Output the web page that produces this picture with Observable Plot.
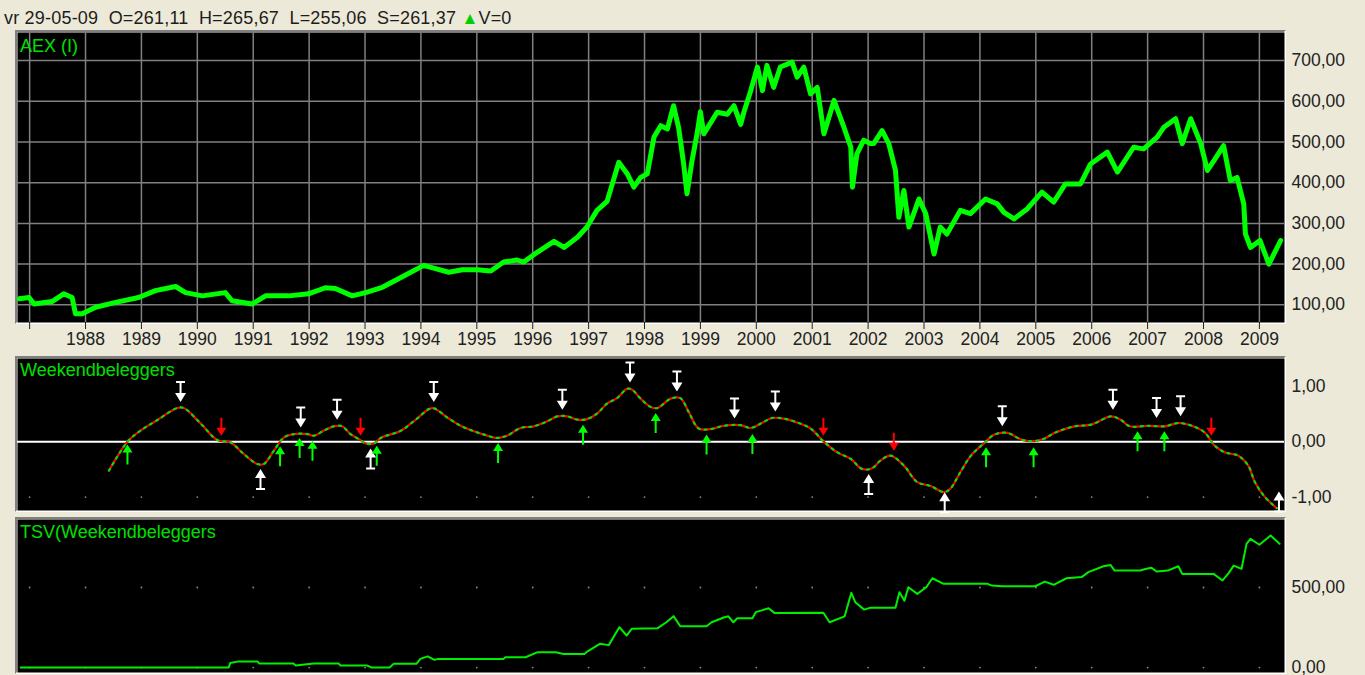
<!DOCTYPE html>
<html><head><meta charset="utf-8">
<script src="https://cdn.jsdelivr.net/npm/d3@7"></script>
<script src="https://cdn.jsdelivr.net/npm/@observablehq/plot@0.6"></script>
<style>
body{margin:0;background:#ECE9D8;width:1365px;height:675px;overflow:hidden;position:relative;font-family:"Liberation Sans",Arial,sans-serif;}
.frame{position:absolute;box-sizing:border-box;border-top:2px solid #7f7f7f;border-left:2px solid #7f7f7f;border-bottom:2px solid #fff;border-right:2px solid #fff;}
.panel{position:absolute;left:0;}
.panel svg{overflow:visible;display:block;}
.lbl{position:absolute;left:20px;color:#00e000;font-size:18px;line-height:1;white-space:pre;}
#hdr{position:absolute;left:4px;top:9px;font-size:18px;letter-spacing:0.2px;line-height:1;color:#1c1c1c;white-space:pre;}
#hdr .tri{color:#00d000;font-size:17px;}
</style></head><body>
<div id="hdr">vr 29-05-09  O=261,11  H=265,67  L=255,06  S=261,37 <span class="tri">▲</span>V=0</div>
<div class="frame" style="left:15px;top:30px;width:1271px;height:294px"></div>
<div class="frame" style="left:15px;top:356px;width:1271px;height:156px"></div>
<div class="frame" style="left:15px;top:517px;width:1271px;height:157px"></div>
<div id="p1" class="panel" style="top:32px"></div>
<div id="p2" class="panel" style="top:358px"></div>
<div id="p3" class="panel" style="top:519px"></div>
<div class="lbl" style="top:37px">AEX (I)</div>
<div class="lbl" style="top:361px">Weekendbeleggers</div>
<div class="lbl" style="top:523px">TSV(Weekendbeleggers</div>
<script>
// ---------- data (decimal year, value) ----------
const yearTicks = [1987,1988,1989,1990,1991,1992,1993,1994,1995,1996,1997,1998,1999,2000,2001,2002,2003,2004,2005,2006,2007,2008,2009];
const aexTicks = [100,200,300,400,500,600,700];
const wbTicks = [1,0,-1];
const tsvTicks = [0,500];

const aexSeries = [
[1986.81,115],[1986.99,118],[1987.08,102],[1987.40,108],[1987.61,127],[1987.76,118],[1987.82,78],[1987.94,78],
[1988.18,94],[1988.54,106],[1988.95,118],[1989.25,135],[1989.61,145],[1989.79,130],[1990.09,122],[1990.50,130],
[1990.62,110],[1990.98,102],[1991.22,122],[1991.64,122],[1991.99,127],[1992.29,142],[1992.47,140],[1992.77,122],
[1993.01,130],[1993.31,143],[1993.60,164],[1994.05,197],[1994.26,189],[1994.50,180],[1994.74,186],[1995.01,186],
[1995.25,183],[1995.48,205],[1995.72,210],[1995.84,205],[1996.08,229],[1996.38,256],[1996.56,241],[1996.80,266],
[1996.97,291],[1997.15,332],[1997.33,354],[1997.54,450],[1997.69,422],[1997.81,389],[1997.93,413],[1998.05,422],
[1998.17,512],[1998.29,540],[1998.41,532],[1998.52,589],[1998.61,535],[1998.70,446],[1998.76,373],[1998.85,454],
[1998.94,520],[1999.00,574],[1999.06,520],[1999.30,573],[1999.48,568],[1999.60,589],[1999.72,543],[1999.78,574],
[1999.90,626],[2000.02,684],[2000.11,626],[2000.19,688],[2000.31,634],[2000.43,684],[2000.64,696],[2000.73,659],
[2000.85,684],[2000.97,618],[2001.09,634],[2001.21,520],[2001.39,602],[2001.57,535],[2001.69,487],[2001.72,389],
[2001.80,471],[2001.92,504],[2002.04,496],[2002.10,496],[2002.25,528],[2002.37,496],[2002.49,430],[2002.55,315],
[2002.64,381],[2002.73,291],[2002.91,360],[2003.03,324],[2003.18,225],[2003.29,291],[2003.41,274],[2003.65,332],
[2003.83,324],[2004.10,360],[2004.31,348],[2004.43,327],[2004.61,311],[2004.85,336],[2005.11,377],[2005.32,352],
[2005.53,397],[2005.80,397],[2005.98,446],[2006.28,475],[2006.46,426],[2006.75,487],[2006.93,483],[2007.17,512],
[2007.29,536],[2007.50,557],[2007.62,496],[2007.77,557],[2007.95,496],[2008.07,430],[2008.19,455],[2008.36,491],
[2008.48,405],[2008.60,413],[2008.72,348],[2008.75,274],[2008.84,241],[2009.01,258],[2009.17,200],[2009.38,258]
];

const wbSeries = [
[1988.42,-0.52],[1988.75,0.00],[1988.98,0.20],[1989.28,0.39],[1989.64,0.61],[1989.76,0.61],[1990.06,0.33],[1990.36,0.03],
[1990.59,-0.01],[1990.83,-0.22],[1991.07,-0.40],[1991.19,-0.40],[1991.37,-0.16],[1991.55,0.08],[1991.73,0.14],[1991.97,0.14],
[1992.08,0.11],[1992.26,0.20],[1992.44,0.28],[1992.59,0.28],[1992.74,0.14],[1992.92,0.03],[1993.01,-0.03],[1993.16,-0.03],
[1993.28,0.07],[1993.64,0.20],[1993.93,0.42],[1994.20,0.61],[1994.47,0.44],[1994.71,0.29],[1994.95,0.19],[1995.13,0.13],
[1995.36,0.07],[1995.54,0.11],[1995.78,0.25],[1996.02,0.28],[1996.26,0.37],[1996.44,0.46],[1996.62,0.46],[1996.80,0.40],
[1996.97,0.41],[1997.15,0.51],[1997.33,0.69],[1997.51,0.79],[1997.69,0.96],[1997.78,0.94],[1997.93,0.78],[1998.11,0.63],
[1998.23,0.61],[1998.47,0.78],[1998.64,0.79],[1998.79,0.54],[1998.97,0.24],[1999.18,0.23],[1999.42,0.29],[1999.72,0.30],
[1999.90,0.25],[2000.08,0.33],[2000.28,0.43],[2000.49,0.42],[2000.73,0.35],[2000.97,0.24],[2001.21,0.00],[2001.45,-0.19],
[2001.69,-0.31],[2001.89,-0.49],[2002.07,-0.48],[2002.22,-0.34],[2002.40,-0.25],[2002.64,-0.43],[2002.88,-0.73],[2003.12,-0.80],
[2003.36,-0.91],[2003.47,-0.85],[2003.65,-0.55],[2003.84,-0.25],[2004.08,-0.02],[2004.26,0.13],[2004.49,0.16],[2004.74,0.04],
[2004.94,0.01],[2005.16,0.06],[2005.33,0.16],[2005.69,0.28],[2005.99,0.31],[2006.35,0.46],[2006.53,0.39],[2006.68,0.28],
[2007.01,0.29],[2007.31,0.28],[2007.55,0.34],[2007.79,0.29],[2008.02,0.17],[2008.20,-0.07],[2008.38,-0.19],[2008.62,-0.25],
[2008.80,-0.43],[2008.92,-0.73],[2009.10,-1.00],[2009.31,-1.20]
];

// signal arrows: [decimal year, value at arrow tip]
const sellTops = [[1989.70,0.72],[1991.85,0.26],[1992.50,0.40],[1994.23,0.72],[1996.53,0.58],[1997.74,1.07],[1998.58,0.91],
[1999.61,0.42],[2000.34,0.55],[2004.40,0.28],[2006.38,0.58],[2007.16,0.43],[2007.59,0.46]];
const buyBottoms = [[1991.13,-0.49],[1993.10,-0.12],[2002.01,-0.58],[2003.37,-0.91],[2009.35,-0.90]];
const redSignals = [[1990.43,0.11],[1992.92,0.11],[2001.20,0.11],[2002.46,-0.16],[2008.14,0.11]];
const greenSignals = [[1988.75,-0.05],[1991.48,-0.08],[1991.83,0.07],[1992.06,0.02],[1993.21,-0.07],[1995.38,-0.02],[1996.90,0.31],
[1998.20,0.52],[1999.11,0.13],[1999.93,0.14],[2004.11,-0.10],[2004.96,-0.10],[2006.82,0.19],[2007.30,0.19]];

const tsvSeries = [
[1986.84,0],[1990.56,0],[1990.59,29],[1990.72,37],[1991.08,37],[1991.11,25],[1991.72,25],[1991.76,13],[1992.08,25],
[1992.53,25],[1992.56,12],[1993.04,12],[1993.12,0],[1993.44,0],[1993.51,23],[1993.92,23],[1993.99,54],[1994.12,70],
[1994.24,48],[1994.31,54],[1995.48,54],[1995.51,64],[1995.87,64],[1996.09,96],[1996.41,96],[1996.55,85],[1996.93,85],
[1996.96,96],[1997.20,148],[1997.36,140],[1997.55,252],[1997.68,200],[1997.77,242],[1998.23,245],[1998.39,283],
[1998.52,321],[1998.64,258],[1999.11,258],[1999.20,283],[1999.43,314],[1999.50,320],[1999.59,283],[1999.66,308],
[1999.93,308],[1999.99,346],[2000.22,370],[2000.33,340],[2001.20,342],[2001.31,283],[2001.58,320],[2001.70,467],
[2001.77,408],[2001.93,362],[2002.03,373],[2002.49,373],[2002.56,470],[2002.65,417],[2002.72,502],[2002.88,460],
[2003.04,502],[2003.15,558],[2003.35,523],[2004.14,523],[2004.21,512],[2004.40,508],[2004.99,508],[2005.16,537],
[2005.32,517],[2005.55,558],[2005.82,565],[2005.94,596],[2006.21,633],[2006.34,640],[2006.41,606],[2006.87,606],
[2006.96,616],[2007.07,623],[2007.16,600],[2007.36,606],[2007.55,633],[2007.62,585],[2008.18,585],[2008.34,544],
[2008.45,590],[2008.54,637],[2008.68,616],[2008.77,773],[2008.84,804],[2009.00,767],[2009.20,825],[2009.36,773]
];

// ---------- helpers ----------
const xDomain = [1986.783, 2009.449];
const fmt = d => d.toFixed(2).replace(".", ",");
const font = "'Liberation Sans', Arial, sans-serif";
const baseStyle = {background:"transparent", fontSize:"17.5px", fontFamily:font, color:"#222", overflow:"visible"};
const common = {width:1365, marginLeft:17, marginRight:81, marginTop:0};

function poly(ctx, pts){ ctx.moveTo(pts[0][0], pts[0][1]); for (let i=1;i<pts.length;i++) ctx.lineTo(pts[i][0], pts[i][1]); ctx.closePath(); }
const sellSym = {draw(ctx){ poly(ctx,[[0,0],[-5.5,-9],[5.5,-9]]); poly(ctx,[[-1,-9],[1,-9],[1,-19],[-1,-19]]); poly(ctx,[[-4.5,-19],[4.5,-19],[4.5,-21],[-4.5,-21]]); }};
const buySym  = {draw(ctx){ poly(ctx,[[0,0],[-5.5,9],[5.5,9]]); poly(ctx,[[-1,9],[1,9],[1,19],[-1,19]]); poly(ctx,[[-4.5,19],[4.5,19],[4.5,21],[-4.5,21]]); }};
const redSym  = {draw(ctx){ poly(ctx,[[0,0],[-5,-8],[5,-8]]); poly(ctx,[[-1,-8],[1,-8],[1,-18],[-1,-18]]); }};
const greenSym= {draw(ctx){ poly(ctx,[[0,0],[-5,8],[5,8]]); poly(ctx,[[-1,8],[1,8],[1,20],[-1,20]]); }};

// ---------- panel 1: AEX ----------
document.getElementById("p1").append(Plot.plot({
  ...common, height:320, marginBottom:30, style:baseStyle,
  x:{domain:xDomain, ticks:yearTicks, tickFormat:d => d === yearTicks[0] ? "" : String(d), tickSize:7, tickPadding:3, label:null},
  y:{domain:[56.6,768.8], axis:"right", ticks:aexTicks, tickFormat:fmt, tickSize:0, tickPadding:7, label:null},
  marks:[
    Plot.frame({fill:"black", stroke:"none"}),
    Plot.ruleX(yearTicks, {stroke:"#808080", strokeWidth:1.5}),
    Plot.ruleY(aexTicks, {stroke:"#808080", strokeWidth:1.5}),
    Plot.line(aexSeries, {x:d=>d[0], y:d=>d[1], stroke:"#00ff00", strokeWidth:5, strokeLinejoin:"round"})
  ]
}));

// ---------- panel 2: Weekendbeleggers ----------
document.getElementById("p2").append(Plot.plot({
  ...common, height:152, marginBottom:0, style:baseStyle,
  x:{domain:xDomain, axis:null},
  y:{domain:[-1.242,1.506], axis:"right", ticks:wbTicks, tickFormat:fmt, tickSize:0, tickPadding:7, label:null},
  marks:[
    Plot.frame({fill:"black", stroke:"none"}),
    Plot.dot(d3.cross(yearTicks, [wbTicks[2]]), {x:d=>d[0], y:d=>d[1], r:0.9, fill:"#8a8a8a", stroke:"none"}),
    Plot.ruleY([wbTicks[1]], {stroke:"#ffffff", strokeWidth:2}),
    Plot.line(wbSeries, {x:d=>d[0], y:d=>d[1], stroke:"#ff0000", strokeWidth:2.2, curve:"catmull-rom"}),
    Plot.line(wbSeries, {x:d=>d[0], y:d=>d[1], stroke:"#00e000", strokeWidth:2.2, strokeDasharray:"2,5", curve:"catmull-rom"}),
    Plot.dot(sellTops, {x:d=>d[0], y:d=>d[1], symbol:sellSym, fill:"#ffffff", stroke:"none"}),
    Plot.dot(buyBottoms, {x:d=>d[0], y:d=>d[1], symbol:buySym, fill:"#ffffff", stroke:"none"}),
    Plot.dot(redSignals, {x:d=>d[0], y:d=>d[1], symbol:redSym, fill:"#ff0000", stroke:"none"}),
    Plot.dot(greenSignals, {x:d=>d[0], y:d=>d[1], symbol:greenSym, fill:"#00ff00", stroke:"none"})
  ]
}));

// ---------- panel 3: TSV ----------
document.getElementById("p3").append(Plot.plot({
  ...common, height:153, marginBottom:0, style:baseStyle,
  x:{domain:xDomain, axis:null},
  y:{domain:[-31,925], axis:"right", ticks:tsvTicks, tickFormat:fmt, tickSize:0, tickPadding:7, label:null},
  marks:[
    Plot.frame({fill:"black", stroke:"none"}),
    Plot.dot(d3.cross(yearTicks, tsvTicks), {x:d=>d[0], y:d=>d[1], r:0.9, fill:"#8a8a8a", stroke:"none"}),
    Plot.line(tsvSeries, {x:d=>d[0], y:d=>d[1], stroke:"#00ee00", strokeWidth:2})
  ]
}));
</script>
</body></html>
